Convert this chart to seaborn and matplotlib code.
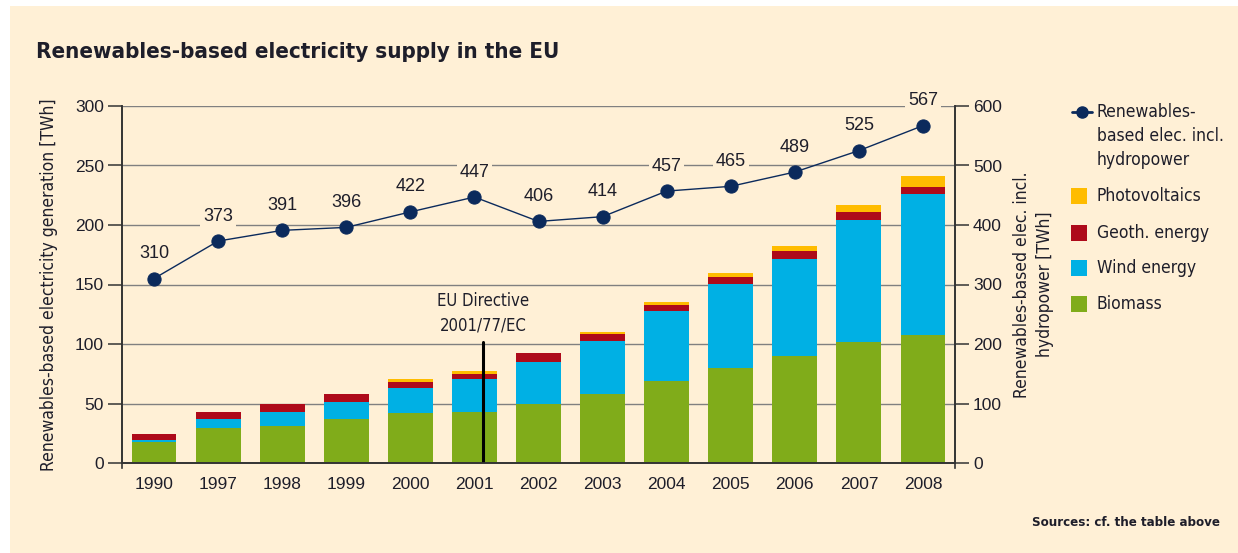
import matplotlib
matplotlib.use("Agg")
import matplotlib.pyplot as plt
from matplotlib.patches import Rectangle
from matplotlib.lines import Line2D
from matplotlib.ticker import MultipleLocator, FixedLocator
import seaborn as sns
import numpy as np

# Daten
years = ["1990", "1997", "1998", "1999", "2000", "2001", "2002",
         "2003", "2004", "2005", "2006", "2007", "2008"]
biomass = [18, 29.3, 31.3, 36.6, 41.7, 43.1, 50, 57.8, 69, 80.2, 90.3, 101.5, 107.9]
wind = [1.6, 7.3, 11.5, 14.8, 21.2, 27.3, 34.9, 45, 59, 70.2, 81.3, 102.9, 117.8]
geoth = [4.7, 6.5, 6.7, 6.8, 5.3, 4.2, 7.8, 5.3, 5, 6.1, 6.4, 6.2, 6.4]
pv = [0, 0, 0, 0, 2.5, 2.3, 0, 2.2, 2.5, 2.8, 4, 6.4, 8.7]
total_incl_hydro = [310, 373, 391, 396, 422, 447, 406, 414, 457, 465, 489, 525, 567]

CREAM = "#FFF0D6"
C_BIO = "#80AC1A"
C_WIND = "#00B0E4"
C_GEO = "#AE0A1A"
C_PV = "#FFBC00"
NAVY = "#0B2A5C"
TXT = "#1E1E2A"

sns.set_style("white")
NARROW = {"family": "DejaVu Sans", "stretch": "condensed"}
NUM = {"family": "Liberation Sans"}

W, H = 1238, 553
fig = plt.figure(figsize=(W / 100, H / 100), dpi=100, facecolor="white")
fig.patches.append(Rectangle((10 / W, 0), 1, 1 - 6 / H, transform=fig.transFigure,
                             facecolor=CREAM, edgecolor="none", zorder=-10))


def px(x, y):
    # Pixel (von oben links) -> Figurkoordinaten
    return x / W, 1 - y / H


ax = fig.add_axes([122 / W, 1 - 463 / H, (955 - 122) / W, (463 - 106) / H])
ax.set_facecolor("none")

# gestapelte Balken: kumulierte Summen, hoechste zuerst
layers = [biomass, wind, geoth, pv]
colors = [C_BIO, C_WIND, C_GEO, C_PV]
cum = np.cumsum(np.array(layers), axis=0)
for vals, col in reversed(list(zip(cum, colors))):
    sns.barplot(x=years, y=vals, color=col, saturation=1, width=0.7,
                linewidth=0, edgecolor="none", ax=ax, zorder=2)

ax.set_ylim(0, 300)
ax.set_xlim(-0.5, len(years) - 0.5)
ax.yaxis.set_major_locator(MultipleLocator(50))
ax.grid(axis="y", color="#808080", lw=1)
ax.grid(axis="x", visible=False)
ax.set_axisbelow(True)

# EU Direktive
ax.plot([5.14, 5.14], [0, 101.5], color="black", lw=2.2, zorder=4)
ax.text(5.14, 126, "EU Directive\n2001/77/EC", ha="center", va="center",
        fontsize=12, color=TXT, linespacing=1.5, **NARROW)

ax2 = ax.twinx()
sns.pointplot(x=years, y=total_incl_hydro, color=NAVY, markers="o",
              markersize=9.5, linewidth=1, ax=ax2, zorder=5)
ax2.set_ylim(0, 600)
ax2.set_xlim(-0.5, len(years) - 0.5)
ax2.yaxis.set_major_locator(MultipleLocator(100))
ax2.grid(False)
for i, v in enumerate(total_incl_hydro):
    ax2.annotate(str(v), (i, v), xytext=(0, 18), textcoords="offset points",
                 ha="center", va="center", fontsize=13, color=TXT, **NUM,
                 bbox=dict(boxstyle="square,pad=0.15", fc=CREAM, ec="none"))

# Achsen / Ticks
for a in (ax, ax2):
    a.spines["top"].set_visible(False)
    for s in ("left", "right", "bottom"):
        a.spines[s].set_color("#333333")
        a.spines[s].set_linewidth(1.2)
ax.spines["left"].set_bounds(-4, 300)
ax2.spines["right"].set_bounds(-8, 600)

ax.xaxis.set_minor_locator(FixedLocator(np.arange(-0.5, len(years), 1)))
ax.tick_params(axis="x", which="major", length=0, pad=10, labelsize=12.5, labelcolor=TXT)
ax.tick_params(axis="x", which="minor", length=7, width=1.2, color="#333333", direction="out")
ax.tick_params(axis="y", length=10, width=1.1, color="#333333", labelsize=12.5,
               labelcolor=TXT, pad=3)
ax2.tick_params(axis="y", length=10, width=1.1, color="#333333", labelsize=12.5,
                labelcolor=TXT, pad=3)
for lab in ax.get_xticklabels() + ax.get_yticklabels() + ax2.get_yticklabels():
    lab.set_fontfamily("Liberation Sans")
ax.set_xlabel("")

ax.set_ylabel("Renewables-based electricity generation [TWh]", fontsize=12.5,
              color=TXT, labelpad=12, **NARROW)
ax2.set_ylabel("Renewables-based elec. incl.\nhydropower [TWh]", fontsize=12.5,
               color=TXT, labelpad=8, linespacing=1.35, **NARROW)

# Titel und Quelle
fig.text(*px(36, 52), "Renewables-based electricity supply in the EU",
         fontsize=16, fontweight="bold", color=TXT, va="center", **NARROW)
fig.text(*px(1220, 523), "Sources: cf. the table above", ha="right",
         va="center", fontsize=9.5, fontweight="bold", color=TXT, **NARROW)

# Legende (von Hand, damit der Linien-Eintrag an der ersten Textzeile steht)
x0, y0 = px(1072, 112)
x1, _ = px(1092, 112)
fig.add_artist(Line2D([x0, x1], [y0, y0], color=NAVY, lw=2, transform=fig.transFigure))
fig.add_artist(Line2D([(x0 + x1) / 2], [y0], color=NAVY, marker="o", markersize=8,
                      transform=fig.transFigure))
for k, line in enumerate(["Renewables-", "based elec. incl.", "hydropower"]):
    fig.text(*px(1097, 112 + k * 24), line, fontsize=12.5, color=TXT, va="center", **NARROW)

leg_items = [("Photovoltaics", C_PV, 196), ("Geoth. energy", C_GEO, 233),
             ("Wind energy", C_WIND, 268), ("Biomass", C_BIO, 304)]
for label, col, yc in leg_items:
    fig.patches.append(Rectangle(px(1071, yc + 8), 16 / W, 16 / H, transform=fig.transFigure,
                                 facecolor=col, edgecolor="none"))
    fig.text(*px(1097, yc), label, fontsize=12.5, color=TXT, va="center", **NARROW)

plt.savefig("out.png", dpi=100, facecolor=fig.get_facecolor())
